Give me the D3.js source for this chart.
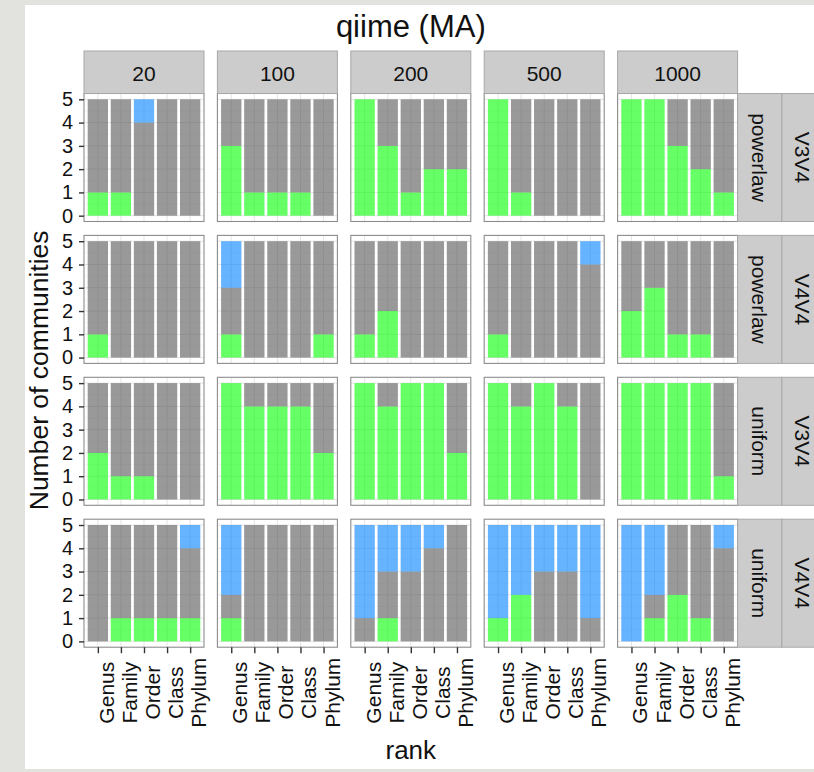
<!DOCTYPE html>
<html>
<head>
<meta charset="utf-8">
<script src="https://cdn.jsdelivr.net/npm/d3@7/dist/d3.min.js"></script>
<style>
  html, body { margin: 0; padding: 0; background: #e2e2de; }
  svg { display: block; }
  text { font-family: "Liberation Sans", Arial, Helvetica, sans-serif; fill: #111; }
</style>
</head>
<body>
<svg id="chart" width="814" height="772"></svg>
<script>
// Facet labels
const ranks = ["Genus", "Family", "Order", "Class", "Phylum"];
const depths = ["20", "100", "200", "500", "1000"];
const rowRegion = ["V3V4", "V4V4", "V3V4", "V4V4"];
const rowDist = ["powerlaw", "powerlaw", "uniform", "uniform"];
const yTicks = [0, 1, 2, 3, 4, 5];

// Counts per [row][depth][rank]; stacked bottom to top: green, grey, blue
const greenCounts = [
  [[1,1,0,0,0],[3,1,1,1,0],[5,3,1,2,2],[5,1,0,0,0],[5,5,3,2,1]],
  [[1,0,0,0,0],[1,0,0,0,1],[1,2,0,0,0],[1,0,0,0,0],[2,3,1,1,0]],
  [[2,1,1,0,0],[5,4,4,4,2],[5,4,5,5,2],[5,4,5,4,0],[5,5,5,5,1]],
  [[0,1,1,1,1],[1,0,0,0,0],[0,1,0,0,0],[1,2,0,0,0],[0,1,2,1,0]]
];
const greyCounts = [
  [[4,4,4,5,5],[2,4,4,4,5],[0,2,4,3,3],[0,4,5,5,5],[0,0,2,3,4]],
  [[4,5,5,5,5],[2,5,5,5,4],[4,3,5,5,5],[4,5,5,5,4],[3,2,4,4,5]],
  [[3,4,4,5,5],[0,1,1,1,3],[0,1,0,0,3],[0,1,0,1,5],[0,0,0,0,4]],
  [[5,4,4,4,3],[1,5,5,5,5],[1,2,3,4,5],[0,0,3,3,1],[0,1,3,4,4]]
];
const blueCounts = [
  [[0,0,1,0,0],[0,0,0,0,0],[0,0,0,0,0],[0,0,0,0,0],[0,0,0,0,0]],
  [[0,0,0,0,0],[2,0,0,0,0],[0,0,0,0,0],[0,0,0,0,1],[0,0,0,0,0]],
  [[0,0,0,0,0],[0,0,0,0,0],[0,0,0,0,0],[0,0,0,0,0],[0,0,0,0,0]],
  [[0,0,0,0,1],[3,0,0,0,0],[4,2,2,1,0],[4,3,2,2,4],[5,3,0,0,1]]
];

const seriesKeys = ["green", "grey", "blue"];
const seriesData = { green: greenCounts, grey: greyCounts, blue: blueCounts };
const seriesFill = { green: "#00ff00", grey: "#555555", blue: "#0080ff" };

// Layout
const W = 814, H = 772;
const panelX0 = 84, panelW = 120, panelPitchX = 133.4;
const panelY0 = 93.5, panelH = 128, panelPitchY = 141.9;
const stripTopH = 42.5, stripRightW = 44.3;
const FONT = "Liberation Sans, Arial, sans-serif";

const svg = d3.select("#chart");

svg.append("rect").attr("x", 0).attr("y", 0).attr("width", W).attr("height", H).attr("fill", "#e2e2de");
svg.append("rect").attr("x", 25).attr("y", 5).attr("width", W - 25).attr("height", 764).attr("fill", "#ffffff");

// Scales inside one panel (discrete x with 0.6 padding, y expanded by 5%)
const x = d3.scalePoint().domain(ranks).range([0, panelW]).padding(0.6);
const barW = x.step() * 0.88;
const y = d3.scaleLinear().domain([-0.25, 5.25]).range([panelH, 0]);

const panels = [];
for (let r = 0; r < rowRegion.length; r++) {
  for (let c = 0; c < depths.length; c++) panels.push({ r, c });
}

const pg = svg.selectAll("g.panel").data(panels).join("g")
  .attr("class", "panel")
  .attr("transform", d => `translate(${panelX0 + d.c * panelPitchX},${panelY0 + d.r * panelPitchY})`);

// Panel background and grid
pg.append("rect").attr("width", panelW).attr("height", panelH).attr("fill", "#ffffff");
pg.each(function () {
  const g = d3.select(this);
  g.selectAll("line.minor").data([0.5, 1.5, 2.5, 3.5, 4.5]).join("line")
    .attr("x1", 0).attr("x2", panelW).attr("y1", d => y(d)).attr("y2", d => y(d))
    .attr("stroke", "#f7f7f7").attr("stroke-width", 1);
  g.selectAll("line.hmaj").data(yTicks).join("line")
    .attr("x1", 0).attr("x2", panelW).attr("y1", d => y(d)).attr("y2", d => y(d))
    .attr("stroke", "#e5e5e5").attr("stroke-width", 1);
  g.selectAll("line.vmaj").data(ranks).join("line")
    .attr("y1", 0).attr("y2", panelH).attr("x1", d => x(d)).attr("x2", d => x(d))
    .attr("stroke", "#e5e5e5").attr("stroke-width", 1);
});

// Stacked bars
pg.each(function (p) {
  const g = d3.select(this);
  const rows = ranks.map((rk, i) => {
    const o = { rank: rk };
    seriesKeys.forEach(k => { o[k] = seriesData[k][p.r][p.c][i]; });
    return o;
  });
  const stacked = d3.stack().keys(seriesKeys)(rows);
  g.selectAll("g.layer").data(stacked).join("g")
    .attr("fill", s => seriesFill[s.key])
    .attr("fill-opacity", 0.6)
    .selectAll("rect").data(s => s.filter(d => d[1] > d[0])).join("rect")
    .attr("x", d => x(d.data.rank) - barW / 2)
    .attr("width", barW)
    .attr("y", d => y(d[1]))
    .attr("height", d => y(d[0]) - y(d[1]));
});

// Panel border
pg.append("rect").attr("width", panelW).attr("height", panelH)
  .attr("fill", "none").attr("stroke", "#8c8c8c").attr("stroke-width", 1.1);

// Top strips (depth)
depths.forEach((dp, c) => {
  const sx = panelX0 + c * panelPitchX, sy = panelY0 - stripTopH;
  svg.append("rect").attr("x", sx).attr("y", sy).attr("width", panelW).attr("height", stripTopH)
    .attr("fill", "#cccccc").attr("stroke", "#a8a8a8").attr("stroke-width", 1);
  svg.append("text").attr("x", sx + panelW / 2).attr("y", sy + stripTopH / 2 + 1)
    .attr("text-anchor", "middle").attr("dominant-baseline", "central")
    .attr("font-size", 21).text(dp);
});

// Right strips (distribution, region); the outer strip runs past the page edge
const stripX = panelX0 + 4 * panelPitchX + panelW;
rowRegion.forEach((rg, r) => {
  const sy = panelY0 + r * panelPitchY;
  [rowDist[r], rg].forEach((lab, k) => {
    const sx = stripX + k * stripRightW;
    svg.append("rect").attr("x", sx).attr("y", sy).attr("width", stripRightW).attr("height", panelH)
      .attr("fill", "#cccccc").attr("stroke", "#a8a8a8").attr("stroke-width", 1);
    const cx = k === 0 ? sx + stripRightW / 2 : Math.min(sx + stripRightW / 2, W - 12);
    svg.append("text")
      .attr("transform", `translate(${cx},${sy + panelH / 2}) rotate(90)`)
      .attr("text-anchor", "middle").attr("dominant-baseline", "central")
      .attr("font-size", 21).text(lab);
  });
});

// Y axes (left column)
rowRegion.forEach((rg, r) => {
  const ay = svg.append("g")
    .attr("transform", `translate(${panelX0},${panelY0 + r * panelPitchY})`)
    .call(d3.axisLeft(y).tickValues(yTicks).tickFormat(d3.format("d")).tickSize(5).tickPadding(6));
  ay.select(".domain").remove();
  ay.selectAll(".tick line").attr("stroke", "#333").attr("stroke-width", 1.4);
  ay.selectAll(".tick text").attr("font-size", 20).attr("fill", "#111").attr("font-family", FONT);
});

// X axes (bottom row)
depths.forEach((dp, c) => {
  const ax = svg.append("g")
    .attr("transform", `translate(${panelX0 + c * panelPitchX},${panelY0 + 3 * panelPitchY + panelH})`)
    .call(d3.axisBottom(x).tickSize(6).tickPadding(4));
  ax.select(".domain").remove();
  ax.selectAll(".tick line").attr("stroke", "#333").attr("stroke-width", 1.4);
  ax.selectAll(".tick text")
    .attr("font-size", 21).attr("fill", "#111").attr("font-family", FONT)
    .attr("text-anchor", "middle").attr("dy", null)
    .attr("dominant-baseline", "alphabetic")
    .attr("transform", "translate(15.5,45.5) rotate(-90)")
    .attr("y", 0).attr("x", 0);
});

// Titles
const plotCx = panelX0 + (4 * panelPitchX + panelW) / 2;
svg.append("text").attr("x", plotCx).attr("y", 37).attr("text-anchor", "middle")
  .attr("font-size", 31).text("qiime (MA)");
svg.append("text").attr("x", plotCx).attr("y", 759).attr("text-anchor", "middle")
  .attr("font-size", 26).text("rank");
svg.append("text")
  .attr("transform", `translate(48,${panelY0 + (3 * panelPitchY + panelH) / 2}) rotate(-90)`)
  .attr("text-anchor", "middle").attr("font-size", 26.5).text("Number of communities");
</script>
</body>
</html>
